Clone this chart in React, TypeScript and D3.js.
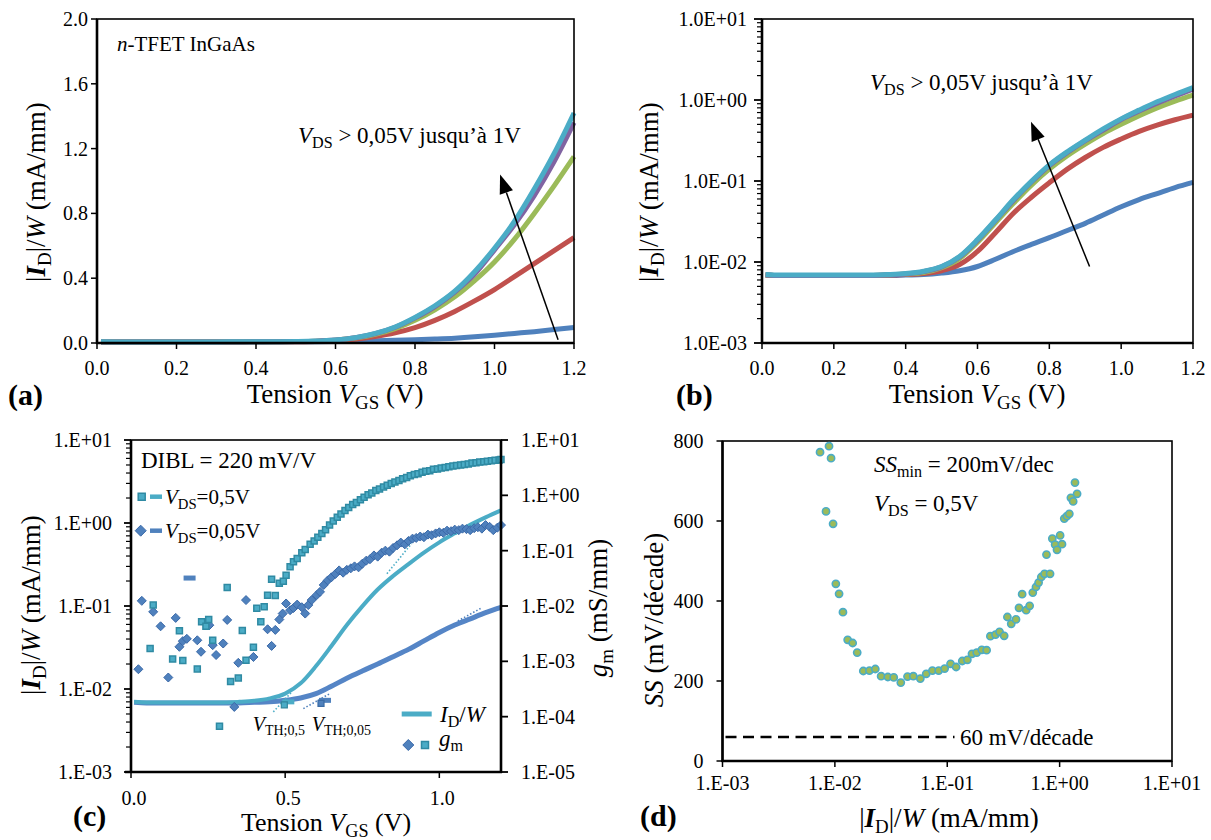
import React from 'react';
import * as d3 from 'd3';

const FONT = "'Liberation Serif','Times New Roman',Times,serif";

// ---- Transfer characteristics, |I_D|/W in mA/mm versus V_GS (V) ----
const vgs = [0.01, 0.05, 0.1, 0.15, 0.2, 0.25, 0.3, 0.35, 0.4, 0.45, 0.5, 0.55, 0.6, 0.65, 0.7, 0.75, 0.8, 0.85, 0.9, 0.95, 1.0, 1.05, 1.1, 1.15, 1.2];
const idVds005 = [0.0069, 0.0068, 0.0068, 0.0068, 0.0068, 0.0068, 0.0068, 0.0068, 0.0069, 0.007, 0.0073, 0.0078, 0.0088, 0.0108, 0.0135, 0.0165, 0.02, 0.0245, 0.03, 0.038, 0.048, 0.059, 0.07, 0.083, 0.096];
const idVdsRed = [0.0069, 0.0068, 0.0068, 0.0068, 0.0068, 0.0068, 0.0068, 0.0069, 0.007, 0.0072, 0.0078, 0.0093, 0.0135, 0.023, 0.04, 0.063, 0.095, 0.14, 0.195, 0.26, 0.33, 0.41, 0.49, 0.57, 0.65];
const idVdsGreen = [0.0069, 0.0068, 0.0068, 0.0068, 0.0068, 0.0068, 0.0068, 0.0069, 0.0071, 0.0074, 0.0085, 0.011, 0.0175, 0.0305, 0.053, 0.089, 0.14, 0.205, 0.285, 0.385, 0.5, 0.64, 0.8, 0.97, 1.15];
const idVdsPurple = [0.0069, 0.0068, 0.0068, 0.0068, 0.0068, 0.0068, 0.0068, 0.0069, 0.0071, 0.0076, 0.0087, 0.0115, 0.0185, 0.0325, 0.0575, 0.097, 0.155, 0.225, 0.315, 0.425, 0.575, 0.73, 0.91, 1.12, 1.36];
const idVdsCyan = [0.007, 0.0069, 0.0069, 0.0069, 0.0069, 0.0069, 0.0069, 0.007, 0.0072, 0.0077, 0.0088, 0.0117, 0.0189, 0.033, 0.059, 0.099, 0.158, 0.23, 0.32, 0.44, 0.585, 0.75, 0.95, 1.17, 1.42];
const idSeries = [idVds005, idVdsRed, idVdsGreen, idVdsPurple, idVdsCyan];
const seriesColors = ['#4F81BD', '#C0504D', '#9BBB59', '#8064A2', '#4BACC6'];

// ---- Transconductance g_m (mS/mm) versus V_GS (V) ----
const gmVds05: [number, number][] = [
  [0.062, 0.00171], [0.072, 0.0104], [0.135, 0.0011], [0.157, 0.00356], [0.168, 0.00103], [0.215, 0.00073],
  [0.229, 0.0052], [0.243, 0.0043], [0.252, 0.0057], [0.265, 0.0024], [0.287, 0.000067], [0.312, 0.0217],
  [0.323, 0.00043], [0.348, 0.0005], [0.361, 0.0036], [0.373, 0.00105], [0.397, 0.0018], [0.408, 0.0091],
  [0.421, 0.0052], [0.432, 0.0097], [0.443, 0.0157], [0.456, 0.0303], [0.468, 0.0155], [0.481, 0.0257],
  [0.494, 0.028], [0.503, 0.036], [0.516, 0.051], [0.527, 0.063], [0.539, 0.072], [0.554, 0.092],
  [0.565, 0.105], [0.581, 0.13], [0.594, 0.15], [0.606, 0.175], [0.619, 0.205], [0.631, 0.24],
  [0.644, 0.29], [0.656, 0.345], [0.669, 0.4], [0.681, 0.46], [0.694, 0.53], [0.706, 0.6],
  [0.719, 0.68], [0.731, 0.74], [0.744, 0.83], [0.756, 0.92], [0.769, 1.02], [0.781, 1.1],
  [0.794, 1.22], [0.806, 1.3], [0.819, 1.42], [0.831, 1.52], [0.844, 1.64], [0.856, 1.74],
  [0.869, 1.85], [0.881, 1.99], [0.894, 2.1], [0.906, 2.25], [0.919, 2.38], [0.931, 2.45],
  [0.944, 2.62], [0.956, 2.72], [0.969, 2.79], [0.981, 2.95], [0.994, 3.0], [1.006, 3.12],
  [1.019, 3.18], [1.031, 3.3], [1.044, 3.4], [1.056, 3.45], [1.069, 3.55], [1.081, 3.62],
  [1.094, 3.7], [1.106, 3.85], [1.119, 3.9], [1.131, 4.0], [1.144, 4.05], [1.156, 4.15],
  [1.169, 4.2], [1.181, 4.3], [1.194, 4.35], [1.2, 4.45],
];
const gmVds005: [number, number][] = [
  [0.024, 0.00072], [0.035, 0.0124], [0.072, 0.00785], [0.096, 0.0043], [0.121, 0.00051], [0.145, 0.0061],
  [0.157, 0.00183], [0.168, 0.00232], [0.181, 0.00255], [0.215, 0.0024], [0.227, 0.00149], [0.254, 0.0045],
  [0.265, 0.00196], [0.276, 0.0013], [0.299, 0.0021], [0.312, 0.0056], [0.335, 0.00015], [0.348, 0.00094],
  [0.373, 0.0128], [0.397, 0.0012], [0.443, 0.0038], [0.456, 0.0019], [0.468, 0.0037], [0.481, 0.0057],
  [0.492, 0.0073], [0.503, 0.0111], [0.516, 0.0084], [0.527, 0.0092], [0.539, 0.0106], [0.554, 0.0095],
  [0.565, 0.0073], [0.575, 0.0104], [0.586, 0.0128], [0.602, 0.0157], [0.613, 0.018], [0.625, 0.024],
  [0.638, 0.029], [0.65, 0.033], [0.663, 0.038], [0.675, 0.044], [0.688, 0.04], [0.7, 0.045],
  [0.713, 0.048], [0.725, 0.052], [0.738, 0.05], [0.75, 0.058], [0.763, 0.066], [0.775, 0.07],
  [0.788, 0.082], [0.8, 0.078], [0.813, 0.092], [0.825, 0.1], [0.838, 0.096], [0.85, 0.112],
  [0.863, 0.125], [0.875, 0.14], [0.888, 0.13], [0.9, 0.15], [0.913, 0.165], [0.925, 0.17],
  [0.938, 0.18], [0.95, 0.175], [0.963, 0.195], [0.975, 0.19], [0.988, 0.205], [1.0, 0.215],
  [1.013, 0.21], [1.025, 0.23], [1.038, 0.225], [1.05, 0.24], [1.063, 0.235], [1.075, 0.25],
  [1.088, 0.245], [1.1, 0.235], [1.113, 0.255], [1.125, 0.265], [1.138, 0.25], [1.15, 0.29],
  [1.163, 0.27], [1.175, 0.235], [1.188, 0.26], [1.2, 0.29],
];
// threshold-voltage extraction: extrapolation segments (V_GS, |I_D|/W) and V_TH points
const vthLinesCyan: [number, number][][] = [[[0.4616, 0.0053], [0.521, 0.0092]], [[0.83, 0.245], [0.91, 0.565]]];
const vthLinesBlue: [number, number][][] = [[[0.559, 0.0058], [0.645, 0.0088]], [[1.06, 0.066], [1.135, 0.094]]];
const vthPoints: { v: number; id: number; color: string; edge: string }[] = [
  { v: 0.494, id: 0.007, color: '#4BACC6', edge: '#31859C' },
  { v: 0.613, id: 0.0073, color: '#4F81BD', edge: '#3A6BA5' },
];
const strayDash = { v: 0.19, gm: 0.032 };

// ---- Subthreshold swing versus |I_D|/W ----
const ssCurrent = [0.00738, 0.00887, 0.00925, 0.00834, 0.00964, 0.0102, 0.0109, 0.0118, 0.013, 0.0144, 0.0158, 0.0179, 0.0203, 0.0229, 0.0258, 0.0296, 0.0334, 0.0386, 0.0443, 0.0499, 0.0576, 0.065, 0.0738, 0.0839, 0.0948, 0.107, 0.12, 0.136, 0.151, 0.166, 0.183, 0.203, 0.224, 0.242, 0.269, 0.292, 0.321, 0.343, 0.371, 0.409, 0.435, 0.464, 0.504, 0.541, 0.577, 0.616, 0.65, 0.687, 0.734, 0.822, 0.764, 0.861, 0.912, 0.948, 1.01, 1.05, 1.1, 1.16, 1.22, 1.26, 1.32, 1.37, 1.43];
const ssValues = [772, 787, 757, 624, 593, 443, 418, 372, 303, 295, 271, 225, 226, 230, 212, 210, 209, 196, 211, 212, 206, 218, 226, 226, 231, 243, 235, 250, 253, 268, 271, 278, 277, 312, 316, 323, 313, 360, 343, 354, 383, 417, 377, 388, 421, 435, 446, 460, 468, 468, 516, 556, 541, 528, 564, 542, 606, 612, 618, 658, 649, 696, 668];
const ssIdeal = 60;
const ssIdealRange = [0.001, 0.116];

// ---- Ticks ----
const linTicksA = [0, 0.4, 0.8, 1.2, 1.6, 2.0];
const vgsTicksAB = [0, 0.2, 0.4, 0.6, 0.8, 1.0, 1.2];
const logTicksB = [1e-3, 1e-2, 1e-1, 1, 10];
const logLabelsB = ['1.0E-03', '1.0E-02', '1.0E-01', '1.0E+00', '1.0E+01'];
const vgsTicksC = [0, 0.5, 1.0];
const logTicksCL = [1e-3, 1e-2, 1e-1, 1, 10];
const logLabelsCL = ['1.E-03', '1.E-02', '1.E-01', '1.E+00', '1.E+01'];
const logTicksCR = [1e-5, 1e-4, 1e-3, 1e-2, 1e-1, 1, 10];
const logLabelsCR = ['1.E-05', '1.E-04', '1.E-03', '1.E-02', '1.E-01', '1.E+00', '1.E+01'];
const ssTicks = [0, 200, 400, 600, 800];
const currentTicksD = [1e-3, 1e-2, 1e-1, 1, 10];
const currentLabelsD = ['1.E-03', '1.E-02', '1.E-01', '1.E+00', '1.E+01'];

// ---- Scales ----
const xA = d3.scaleLinear().domain([0, 1.2]).range([97, 574]);
const yA = d3.scaleLinear().domain([0, 2]).range([343, 19]);
const xB = d3.scaleLinear().domain([0, 1.2]).range([762, 1193]);
const yB = d3.scaleLog().domain([1e-3, 10]).range([343, 19]);
const xC = d3.scaleLinear().domain([0, 1.2]).range([131, 501]);
const yCL = d3.scaleLog().domain([1e-3, 10]).range([772, 440]);
const yCR = d3.scaleLog().domain([1e-5, 10]).range([772, 440]);
const xD = d3.scaleLog().domain([1e-3, 10]).range([722.5, 1172]);
const yD = d3.scaleLinear().domain([0, 800]).range([761, 441]);

function minorLogTicks(lo: number, hi: number) {
  const out: number[] = [];
  for (let e = Math.round(Math.log10(lo)); e < Math.round(Math.log10(hi)); e++) {
    for (let m = 2; m <= 9; m++) out.push(m * Math.pow(10, e));
  }
  return out;
}

type Part = { t: string; i?: boolean; b?: boolean; sub?: boolean };

function Rich({ x, y, parts, size, anchor = 'start', rotate = 0, bold = false }: {
  x: number; y: number; parts: Part[]; size: number; anchor?: string; rotate?: number; bold?: boolean;
}) {
  let shift = 0;
  return (
    <text transform={`translate(${x},${y}) rotate(${rotate})`} fontFamily={FONT} fontSize={size}
      textAnchor={anchor} fill="#000" fontWeight={bold ? 'bold' : 'normal'} style={{ whiteSpace: 'pre' }}>
      {parts.map((p, k) => {
        const target = p.sub ? size * 0.22 : 0;
        const dy = target - shift;
        shift = target;
        return (
          <tspan key={k} dy={dy} fontStyle={p.i ? 'italic' : 'normal'} fontWeight={p.b || bold ? 'bold' : 'normal'}
            fontSize={p.sub ? size * 0.7 : size}>{p.t}</tspan>
        );
      })}
    </text>
  );
}

const VGS_TITLE: Part[] = [{ t: 'Tension ' }, { t: 'V', i: true }, { t: 'GS', sub: true }, { t: ' (V)' }];
const ID_TITLE: Part[] = [{ t: '|' }, { t: 'I', i: true, b: true }, { t: 'D', sub: true }, { t: '|/' }, { t: 'W', i: true }, { t: ' (mA/mm)' }];
const GM_TITLE: Part[] = [{ t: 'g', i: true }, { t: 'm', sub: true }, { t: ' (mS/mm)' }];
const SS_TITLE: Part[] = [{ t: 'SS', i: true }, { t: ' (mV/décade)' }];
const VDS_RANGE: Part[] = [{ t: 'V', i: true }, { t: 'DS', sub: true }, { t: ' > 0,05V jusqu\u2019à 1V' }];

function Arrow({ x1, y1, x2, y2 }: { x1: number; y1: number; x2: number; y2: number }) {
  const ang = Math.atan2(y2 - y1, x2 - x1);
  const L = 19, w = 7;
  const bx = x2 - L * Math.cos(ang), by = y2 - L * Math.sin(ang);
  const px = -Math.sin(ang) * w, py = Math.cos(ang) * w;
  return (
    <g>
      <line x1={x1} y1={y1} x2={bx} y2={by} stroke="#000" strokeWidth={1.5} />
      <polygon points={`${x2},${y2} ${bx + px},${by + py} ${bx - px},${by - py}`} fill="#000" />
    </g>
  );
}

const square = (x: number, y: number, s: number) => `M${x - s / 2},${y - s / 2}h${s}v${s}h${-s}Z`;
const diamond = (x: number, y: number, r: number) => `M${x},${y - r}L${x + r},${y}L${x},${y + r}L${x - r},${y}Z`;

function Frame({ x0, x1, y0, y1 }: { x0: number; x1: number; y0: number; y1: number }) {
  return (
    <g>
      <rect x={x0} y={y0} width={x1 - x0} height={y1 - y0} fill="none" stroke="#000" strokeWidth={1.6} />
      <line x1={x0} x2={x0} y1={y0} y2={y1 + 1} stroke="#000" strokeWidth={2.6} />
      <line x1={x0 - 1} x2={x1} y1={y1} y2={y1} stroke="#000" strokeWidth={2.6} />
    </g>
  );
}

const TICK = 20;
const TITLE = 27;

function PanelA() {
  const line = (vals: number[]) =>
    d3.line<number>().x((_, i) => xA(vgs[i])).y((d) => yA(d)).curve(d3.curveMonotoneX)(vals) || '';
  const [x0, x1] = xA.range();
  const [y1, y0] = yA.range();
  return (
    <g>
      {idSeries.map((s, k) => (
        <path key={k} d={line(s)} fill="none" stroke={seriesColors[k]} strokeWidth={5} />
      ))}
      <Frame x0={x0} x1={x1} y0={y0} y1={y1} />
      {linTicksA.map((t) => (
        <g key={t}>
          <line x1={x0 - 6} x2={x0} y1={yA(t)} y2={yA(t)} stroke="#000" strokeWidth={1.5} />
          <text x={x0 - 9} y={yA(t)} dy="0.35em" textAnchor="end" fontFamily={FONT} fontSize={TICK}>{t.toFixed(1)}</text>
        </g>
      ))}
      {vgsTicksAB.map((t) => (
        <g key={t}>
          <line x1={xA(t)} x2={xA(t)} y1={y1} y2={y1 + 6} stroke="#000" strokeWidth={1.5} />
          <text x={xA(t)} y={375} textAnchor="middle" fontFamily={FONT} fontSize={TICK}>{t.toFixed(1)}</text>
        </g>
      ))}
      <Rich x={335} y={403} parts={VGS_TITLE} size={TITLE} anchor="middle" />
      <Rich x={45} y={192} parts={ID_TITLE} size={TITLE} anchor="middle" rotate={-90} />
      <Rich x={8} y={405} parts={[{ t: '(a)' }]} size={30} bold />
      <Rich x={117} y={51} parts={[{ t: 'n', i: true }, { t: '-TFET InGaAs' }]} size={21} />
      <Rich x={298} y={143} parts={VDS_RANGE} size={23} />
      <Arrow x1={xA(1.16)} y1={yA(0.02)} x2={xA(1.014)} y2={yA(1.04)} />
    </g>
  );
}

function PanelB() {
  const line = (vals: number[]) =>
    d3.line<number>().x((_, i) => xB(vgs[i])).y((d) => yB(d)).curve(d3.curveMonotoneX)(vals) || '';
  const [x0, x1] = xB.range();
  const [y1, y0] = yB.range();
  return (
    <g>
      {idSeries.map((s, k) => (
        <path key={k} d={line(s)} fill="none" stroke={seriesColors[k]} strokeWidth={5} />
      ))}
      <Frame x0={x0} x1={x1} y0={y0} y1={y1} />
      {minorLogTicks(1e-3, 10).map((t) => (
        <line key={t} x1={x0 - 5} x2={x0} y1={yB(t)} y2={yB(t)} stroke="#000" strokeWidth={1.2} />
      ))}
      {logTicksB.map((t, k) => (
        <g key={t}>
          <line x1={x0 - 8} x2={x0} y1={yB(t)} y2={yB(t)} stroke="#000" strokeWidth={1.8} />
          <text x={x0 - 15} y={yB(t)} dy="0.35em" textAnchor="end" fontFamily={FONT} fontSize={TICK}>{logLabelsB[k]}</text>
        </g>
      ))}
      {vgsTicksAB.map((t) => (
        <g key={t}>
          <line x1={xB(t)} x2={xB(t)} y1={y1} y2={y1 + 6} stroke="#000" strokeWidth={1.5} />
          <text x={xB(t)} y={375} textAnchor="middle" fontFamily={FONT} fontSize={TICK}>{t.toFixed(1)}</text>
        </g>
      ))}
      <Rich x={977} y={403} parts={VGS_TITLE} size={TITLE} anchor="middle" />
      <Rich x={658} y={192} parts={ID_TITLE} size={TITLE} anchor="middle" rotate={-90} />
      <Rich x={676} y={405} parts={[{ t: '(b)' }]} size={30} bold />
      <Rich x={870} y={90} parts={VDS_RANGE} size={23} />
      <Arrow x1={xB(0.912)} y1={yB(0.0088)} x2={xB(0.749)} y2={yB(0.54)} />
    </g>
  );
}

function PanelC() {
  const line = (vals: number[]) =>
    d3.line<number>().x((_, i) => xC(vgs[i])).y((d) => yCL(d)).curve(d3.curveMonotoneX)(vals) || '';
  const seg = (pts: [number, number][]) => d3.line<[number, number]>().x((d) => xC(d[0])).y((d) => yCL(d[1]))(pts) || '';
  const [x0, x1] = xC.range();
  const [y1, y0] = yCL.range();
  const cyanFill = '#4BACC6', cyanEdge = '#2F8AA3';
  const blueFill = '#4F81BD', blueEdge = '#3A69A8';
  return (
    <g>
      <path d={line(idVds005)} fill="none" stroke="#5585C6" strokeWidth={5} />
      <path d={line(idVdsCyan)} fill="none" stroke={cyanFill} strokeWidth={4} />
      {vthLinesCyan.map((p, k) => (
        <path key={'c' + k} d={seg(p)} fill="none" stroke={cyanFill} strokeWidth={1.6} strokeDasharray="1.5 2" />
      ))}
      {vthLinesBlue.map((p, k) => (
        <path key={'b' + k} d={seg(p)} fill="none" stroke={blueFill} strokeWidth={1.6} strokeDasharray="1.5 2" />
      ))}
      {vthPoints.map((p, k) => (
        <g key={k}>
          <rect x={xC(p.v) - 1} y={yCL(p.id) - 2.5} width={12} height={5} fill={p.color} />
          <path d={square(xC(p.v) + 1, yCL(p.id) + 3, 6)} fill={p.color} stroke={p.edge} strokeWidth={1.2} />
        </g>
      ))}
      <rect x={xC(strayDash.v) - 6} y={yCR(strayDash.gm) - 2.5} width={12} height={5} fill={blueFill} />
      {gmVds005.map(([v, g], k) => (
        <path key={'d' + k} d={diamond(xC(v), yCR(g), 4.5)} fill={blueFill} stroke={blueEdge} strokeWidth={1} />
      ))}
      {gmVds05.map(([v, g], k) => (
        <path key={'s' + k} d={square(xC(v), yCR(g), 6)} fill={cyanFill} stroke={cyanEdge} strokeWidth={1.5} />
      ))}
      <rect x={x0} y={y0} width={x1 - x0} height={y1 - y0} fill="none" stroke="#000" strokeWidth={1.6} />
      <line x1={x0} x2={x0} y1={y0} y2={y1 + 1} stroke="#000" strokeWidth={2.6} />
      <line x1={x1} x2={x1} y1={y0} y2={y1 + 1} stroke="#000" strokeWidth={2.6} />
      <line x1={x0 - 6} x2={x1 + 1} y1={y1} y2={y1} stroke="#000" strokeWidth={2.6} />
      {minorLogTicks(1e-3, 10).map((t) => (
        <line key={t} x1={x0 - 5} x2={x0} y1={yCL(t)} y2={yCL(t)} stroke="#000" strokeWidth={1.2} />
      ))}
      {logTicksCL.map((t, k) => (
        <g key={t}>
          <line x1={x0 - 7} x2={x0} y1={yCL(t)} y2={yCL(t)} stroke="#000" strokeWidth={1.8} />
          <text x={x0 - 19} y={yCL(t)} dy="0.35em" textAnchor="end" fontFamily={FONT} fontSize={TICK}>{logLabelsCL[k]}</text>
        </g>
      ))}
      {logTicksCR.map((t, k) => (
        <g key={t}>
          <line x1={x1} x2={x1 + 7} y1={yCR(t)} y2={yCR(t)} stroke="#000" strokeWidth={1.8} />
          <text x={x1 + 20} y={yCR(t)} dy="0.35em" textAnchor="start" fontFamily={FONT} fontSize={TICK}>{logLabelsCR[k]}</text>
        </g>
      ))}
      {vgsTicksC.map((t) => (
        <g key={t}>
          <line x1={xC(t)} x2={xC(t)} y1={y1} y2={y1 + 6} stroke="#000" strokeWidth={1.5} />
          <text x={xC(t) + 3} y={805} textAnchor="middle" fontFamily={FONT} fontSize={TICK}>{t.toFixed(1)}</text>
        </g>
      ))}
      <Rich x={326} y={831} parts={VGS_TITLE} size={26} anchor="middle" />
      <Rich x={40} y={605} parts={ID_TITLE} size={TITLE} anchor="middle" rotate={-90} />
      <Rich x={607} y={608} parts={GM_TITLE} size={TITLE} anchor="middle" rotate={-90} />
      <Rich x={73} y={826} parts={[{ t: '(c)' }]} size={30} bold />
      <Rich x={141} y={468} parts={[{ t: 'DIBL = 220 mV/V' }]} size={23} />
      {/* legend, upper left */}
      <path d={square(141.7, 496.7, 7)} fill={cyanFill} stroke={cyanEdge} strokeWidth={1.5} />
      <line x1={150} x2={162} y1={496.7} y2={496.7} stroke={cyanFill} strokeWidth={4.5} />
      <Rich x={165} y={504} parts={[{ t: 'V', i: true }, { t: 'DS', sub: true }, { t: '=0,5V' }]} size={21} />
      <path d={diamond(140.7, 530.7, 5.5)} fill={blueFill} stroke={blueEdge} strokeWidth={1} />
      <line x1={150} x2={162} y1={530.7} y2={530.7} stroke={blueFill} strokeWidth={4.5} />
      <Rich x={165} y={538} parts={[{ t: 'V', i: true }, { t: 'DS', sub: true }, { t: '=0,05V' }]} size={21} />
      {/* legend, lower right */}
      <line x1={401.7} x2={431.7} y1={714} y2={714} stroke={cyanFill} strokeWidth={5} />
      <Rich x={440} y={722} parts={[{ t: 'I', i: true }, { t: 'D', sub: true }, { t: '/' }, { t: 'W', i: true }]} size={23} />
      <path d={diamond(408.3, 745, 5.5)} fill={blueFill} stroke={blueEdge} strokeWidth={1} />
      <path d={square(425, 745, 7)} fill={cyanFill} stroke={cyanEdge} strokeWidth={1.5} />
      <Rich x={439} y={746} parts={[{ t: 'g', i: true }, { t: 'm', sub: true }]} size={23} />
      <Rich x={252.7} y={731} parts={[{ t: 'V', i: true }, { t: 'TH;0,5', sub: true }]} size={20} />
      <Rich x={311.7} y={731} parts={[{ t: 'V', i: true }, { t: 'TH;0,05', sub: true }]} size={20} />
    </g>
  );
}

function PanelD() {
  const [x0, x1] = xD.range();
  const [y1, y0] = yD.range();
  return (
    <g>
      <Frame x0={x0} x1={x1} y0={y0} y1={y1} />
      <line x1={xD(ssIdealRange[0]) + 3} x2={xD(ssIdealRange[1])} y1={yD(ssIdeal)} y2={yD(ssIdeal)}
        stroke="#000" strokeWidth={2.5} strokeDasharray="11 6.5" />
      {ssCurrent.map((c, k) => (
        <circle key={k} cx={xD(c)} cy={yD(ssValues[k])} r={3.6} fill="#9BBB59" stroke="#4BACC6" strokeWidth={1.6} />
      ))}
      {ssTicks.map((t) => (
        <g key={t}>
          <line x1={x0 - 6} x2={x0} y1={yD(t)} y2={yD(t)} stroke="#000" strokeWidth={1.5} />
          <text x={x0 - 19} y={yD(t)} dy="0.35em" textAnchor="end" fontFamily={FONT} fontSize={TICK}>{t}</text>
        </g>
      ))}
      {currentTicksD.map((t, k) => (
        <g key={t}>
          <line x1={xD(t)} x2={xD(t)} y1={y1} y2={y1 + 6} stroke="#000" strokeWidth={1.5} />
          <text x={xD(t)} y={790} textAnchor="middle" fontFamily={FONT} fontSize={TICK}>{currentLabelsD[k]}</text>
        </g>
      ))}
      <Rich x={949} y={827} parts={ID_TITLE} size={TITLE} anchor="middle" />
      <Rich x={663} y={620} parts={SS_TITLE} size={TITLE} anchor="middle" rotate={-90} />
      <Rich x={640} y={826} parts={[{ t: '(d)' }]} size={30} bold />
      <Rich x={874} y={471.7} parts={[{ t: 'SS', i: true }, { t: 'min', sub: true }, { t: ' = 200mV/dec' }]} size={23} />
      <Rich x={874} y={510.7} parts={[{ t: 'V', i: true }, { t: 'DS', sub: true }, { t: ' = 0,5V' }]} size={23} />
      <Rich x={960} y={745} parts={[{ t: '60 mV/décade' }]} size={23} />
    </g>
  );
}

export default function App() {
  return (
    <svg width={1211} height={840} viewBox="0 0 1211 840"
      style={{ position: 'absolute', left: 0, top: 0, background: '#fff' }}>
      <rect width={1211} height={840} fill="#fff" />
      <PanelA />
      <PanelB />
      <PanelC />
      <PanelD />
    </svg>
  );
}
